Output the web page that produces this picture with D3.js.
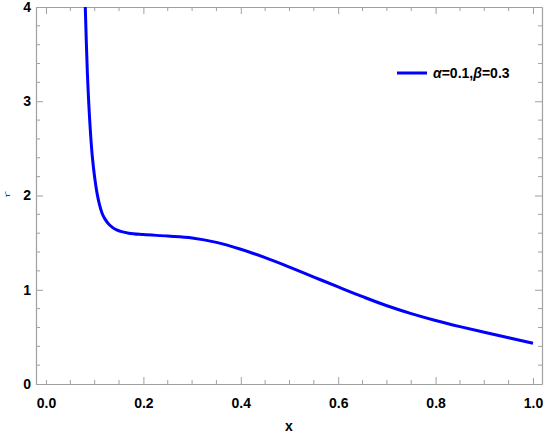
<!DOCTYPE html>
<html>
<head>
<meta charset="utf-8">
<script src="https://cdn.jsdelivr.net/npm/d3@7"></script>
<style>
  body { margin: 0; background: #fff; }
  svg text { font-family: "Liberation Sans Narrow", "Liberation Sans", Arial, sans-serif; font-weight: bold; }
</style>
</head>
<body>
<div id="chart"></div>
<script>
// curve
const xVals = [0.0807, 0.085, 0.09, 0.095, 0.1, 0.105, 0.11, 0.115, 0.12, 0.13, 0.145, 0.17, 0.2, 0.25, 0.3, 0.35, 0.4, 0.45, 0.5, 0.55, 0.6, 0.65, 0.7, 0.75, 0.8, 0.85, 0.9, 0.95, 1.0];
const yVals = [4.0, 3.3, 2.78, 2.42, 2.19, 2.02, 1.9, 1.815, 1.76, 1.69, 1.635, 1.60, 1.585, 1.57, 1.55, 1.503, 1.43, 1.34, 1.24, 1.135, 1.03, 0.927, 0.83, 0.747, 0.674, 0.609, 0.549, 0.49, 0.432];
const xTicks = [0, 0.2, 0.4, 0.6, 0.8, 1.0];
const yTicks = [0, 1, 2, 3, 4];
const legendLabel = "α=0.1,β=0.3";

let width = 545, height = 436;
let margin = { top: 7, right: 3, bottom: 52, left: 36 };
let w = width - margin.left - margin.right,
    h = height - margin.top - margin.bottom;

let x = d3.scaleLinear().domain([-0.0205, 1.0185]).range([0, w]);
let y = d3.scaleLinear().domain([0, 4]).range([h, 0]);

let svg = d3.select("#chart").append("svg")
    .attr("width", width)
    .attr("height", height)
    .append("g")
    .attr("transform", `translate(${margin.left},${margin.top})`);

svg.append("defs").append("clipPath").attr("id", "clip")
    .append("rect").attr("width", w).attr("height", h);

const tickCol = "#a0a0a0";
let xMinor = d3.range(0, 1.0001, 0.05).filter(v => xTicks.every(t => Math.abs(t - v) > 1e-6));
let yMinor = d3.range(0, 4.0001, 0.2).filter(v => yTicks.every(t => Math.abs(t - v) > 1e-6));

// bottom axis
let xAxis = d3.axisBottom(x).tickValues(xTicks).tickFormat(d3.format(".1f")).tickSizeInner(-7).tickSizeOuter(0).tickPadding(14);
let gx = svg.append("g").attr("transform", `translate(0,${h})`).call(xAxis);
gx.selectAll(".tick").filter(d => d === 0).select("line").attr("y2", -4);
gx.selectAll(".tick").filter(d => d === 1).select("line").attr("y2", -6);
gx.append("g").selectAll("line").data(xMinor).enter().append("line")
    .attr("x1", d => x(d)).attr("x2", d => x(d)).attr("y1", 0).attr("y2", -4);

// top axis
let gxt = svg.append("g").call(d3.axisTop(x).tickValues(xTicks).tickFormat("").tickSizeInner(-7).tickSizeOuter(0));
gxt.append("g").selectAll("line").data(xMinor).enter().append("line")
    .attr("x1", d => x(d)).attr("x2", d => x(d)).attr("y1", 0).attr("y2", 4);

// left axis
let gy = svg.append("g").call(d3.axisLeft(y).tickValues(yTicks).tickFormat(d3.format("d")).tickSizeInner(-7).tickSizeOuter(0).tickPadding(5));
gy.append("g").selectAll("line").data(yMinor).enter().append("line")
    .attr("y1", d => y(d)).attr("y2", d => y(d)).attr("x1", 0).attr("x2", 4);

// right axis
let gyr = svg.append("g").attr("transform", `translate(${w},0)`)
    .call(d3.axisRight(y).tickValues(yTicks).tickFormat("").tickSizeInner(-7).tickSizeOuter(0));
gyr.append("g").selectAll("line").data(yMinor).enter().append("line")
    .attr("y1", d => y(d)).attr("y2", d => y(d)).attr("x1", 0).attr("x2", -4);

[gx, gxt, gy, gyr].forEach(g => {
    g.selectAll("path.domain").attr("stroke", tickCol).attr("stroke-width", 1.2);
    g.selectAll("line").attr("stroke", tickCol).attr("stroke-width", 1);
    g.selectAll("text").attr("fill", "#000").style("font-size", "14px");
});

// curve
let pts = xVals.map((v, i) => [v, yVals[i]]);
svg.append("path")
    .datum(pts)
    .attr("clip-path", "url(#clip)")
    .attr("fill", "none")
    .attr("stroke", "#0000ff")
    .attr("stroke-width", 3)
    .attr("d", d3.line().x(d => x(d[0])).y(d => y(d[1])).curve(d3.curveCatmullRom.alpha(0.5)));

// axis labels
svg.append("text")
    .attr("x", w / 2).attr("y", h + 47)
    .attr("text-anchor", "middle")
    .style("font-size", "14px")
    .text("x");

svg.append("text")
    .attr("transform", `translate(${-26},${y(2)}) rotate(-90)`)
    .attr("text-anchor", "middle")
    .style("font-size", "8px")
    .style("font-weight", "normal")
    .text("τ̃");

// legend
let lg = svg.append("g").attr("transform", `translate(${397 - margin.left},${73 - margin.top})`);
lg.append("line").attr("x1", 0).attr("x2", 30).attr("y1", 0).attr("y2", 0)
    .attr("stroke", "#0000ff").attr("stroke-width", 3);
let lt = lg.append("text").attr("x", 36).attr("y", 5).style("font-size", "14px");
legendLabel.split(/([αβ])/).filter(s => s).forEach(s => {
    lt.append("tspan").style("font-style", /[αβ]/.test(s) ? "italic" : "normal").text(s);
});
</script>
</body>
</html>
